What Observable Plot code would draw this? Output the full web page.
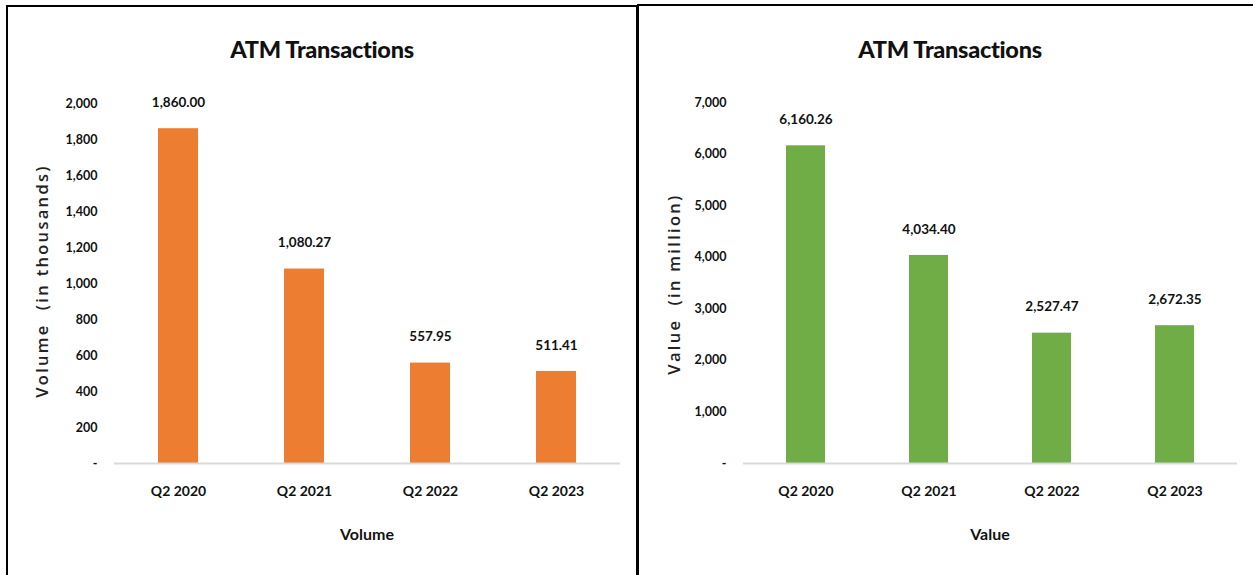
<!DOCTYPE html>
<html>
<head>
<meta charset="utf-8">
<script src="https://cdn.jsdelivr.net/npm/d3@7"></script>
<script src="https://cdn.jsdelivr.net/npm/@observablehq/plot@0.6"></script>
<style>
  html, body { margin: 0; padding: 0; background: #fff; width: 1253px; height: 575px; overflow: hidden; }
  .panel { position: absolute; border: 2px solid #000; box-sizing: border-box; }
  .abs { position: absolute; }
  .title { font-family: Lato, sans-serif; font-weight: 900; font-size: 23.5px; color: #111; text-align: center; white-space: nowrap; letter-spacing: -0.3px; }
  .xtitle { font-family: Lato, sans-serif; font-weight: bold; font-size: 16px; color: #111; text-align: center; white-space: nowrap; }
  .ytitle { font-family: "Open Sans", "DejaVu Sans", sans-serif; font-weight: 600; font-size: 16.5px; color: #222; white-space: pre; letter-spacing: 2.3px; transform: translate(-50%, -50%) rotate(-90deg); }
</style>
</head>
<body>
<div class="panel" style="left:6px; top:5px; width:632px; height:620px;"></div>
<div class="panel" style="left:637px; top:4px; width:630px; height:620px;"></div>
<div id="root"></div>
<script>
const quarters = ["Q2 2020", "Q2 2021", "Q2 2022", "Q2 2023"];
const volumeThousands = [1860.00, 1080.27, 557.95, 511.41];
const valueMillion = [6160.26, 4034.40, 2527.47, 2672.35];
const volumeTicks = [0, 200, 400, 600, 800, 1000, 1200, 1400, 1600, 1800, 2000];
const valueTicks = [0, 1000, 2000, 3000, 4000, 5000, 6000, 7000];
const chartTitle = "ATM Transactions";
const volumeAxisLabel = "Volume  (in thousands)";
const valueAxisLabel = "Value  (in million)";
const volumeXTitle = "Volume";
const valueXTitle = "Value";

const FONT = 'Lato, sans-serif';
const tickFmt = d => d === 0 ? "-" : d3.format(",")(d);
const labelFmt = d3.format(",.2f");

function makeChart(values, ticks, color, opts) {
  const data = quarters.map((q, i) => ({q, v: values[i]}));
  const plot = Plot.plot({
    width: opts.width,
    height: 575,
    marginLeft: opts.marginLeft,
    marginRight: opts.marginRight,
    marginTop: opts.marginTop,
    marginBottom: 575 - 463,
    style: {fontFamily: FONT, fontSize: "13px", fontWeight: "bold", color: "#111", background: "transparent"},
    x: {domain: quarters, paddingInner: 0.68, paddingOuter: 0.34, label: null},
    y: {domain: [0, ticks[ticks.length - 1]], label: null},
    marks: [
      Plot.axisX({tickSize: 0, tickPadding: 23, fontSize: 14, label: null}),
      Plot.axisY({ticks: ticks, tickFormat: tickFmt, tickSize: 0, tickPadding: 17, fontSize: 12.5, label: null}),
      Plot.barY(data, {x: "q", y: "v", fill: color}),
      Plot.ruleY([0], {stroke: "#d9d9d9", strokeWidth: 2}),
      Plot.text(data, {x: "q", y: "v", text: d => labelFmt(d.v), dy: -26, fontSize: 13.5, fontWeight: "bold", fill: "#111"})
    ]
  });
  plot.style.position = "absolute";
  plot.style.left = opts.left + "px";
  plot.style.top = "0px";
  return plot;
}

const root = document.getElementById("root");
root.appendChild(makeChart(volumeThousands, volumeTicks, "#ED7D31", {left: 0, width: 636, marginLeft: 114, marginRight: 16, marginTop: 103}));
root.appendChild(makeChart(valueMillion, valueTicks, "#70AD47", {left: 640, width: 613, marginLeft: 103, marginRight: 16, marginTop: 102}));

function addText(cls, text, x, y) {
  const d = document.createElement("div");
  d.className = "abs " + cls;
  d.textContent = text;
  d.style.left = x + "px";
  d.style.top = y + "px";
  if (cls !== "ytitle") d.style.transform = "translate(-50%, -50%)";
  root.appendChild(d);
}
addText("title", chartTitle, 322, 49);
addText("title", chartTitle, 950, 49);
addText("xtitle", volumeXTitle, 367, 533);
addText("xtitle", valueXTitle, 990, 533);
addText("ytitle", volumeAxisLabel, 41, 281);
addText("ytitle", valueAxisLabel, 673, 284);
</script>
</body>
</html>
